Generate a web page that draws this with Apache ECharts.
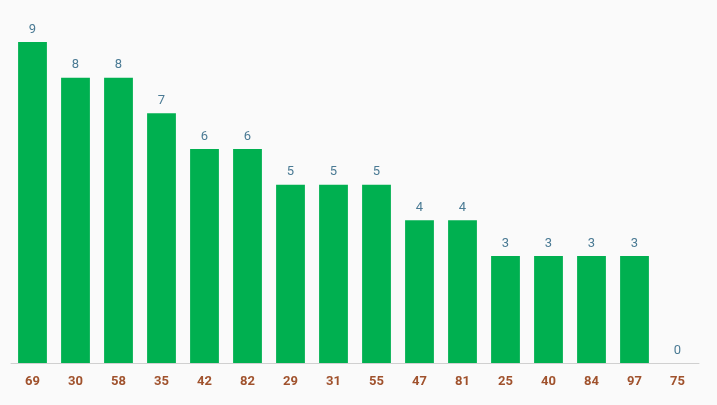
<!DOCTYPE html>
<html>
<head>
<meta charset="UTF-8">
<script src="https://cdn.jsdelivr.net/npm/echarts@6/dist/echarts.min.js"></script>
<style>body{margin:0;background:#fafafa;}</style>
</head>
<body>
<div id="chart" style="width:717px;height:405px;"></div>
<script>
var categories = ['69','30','58','35','42','82','29','31','55','47','81','25','40','84','97','75'];
var values = [9,8,8,7,6,6,5,5,5,4,4,3,3,3,3,0];

var chart = echarts.init(document.getElementById('chart'));
chart.setOption({
  backgroundColor: '#fafafa',
  grid: { left: 11, right: 18, top: 42, bottom: 42 },
  xAxis: {
    type: 'category',
    data: categories,
    axisTick: { show: false },
    axisLine: { lineStyle: { color: '#d0d0d0' } },
    axisLabel: { color: '#a0522d', fontWeight: 'bold', fontSize: 13, margin: 12, fontFamily: 'Roboto' }
  },
  yAxis: { type: 'value', min: 0, max: 9, show: false },
  series: [{
    type: 'bar',
    data: values,
    barCategoryGap: '33%',
    itemStyle: { color: '#00b050' },
    label: { show: true, position: 'top', color: '#4a7a94', fontSize: 13, fontFamily: 'Roboto', distance: 6 }
  }]
});
</script>
</body>
</html>
